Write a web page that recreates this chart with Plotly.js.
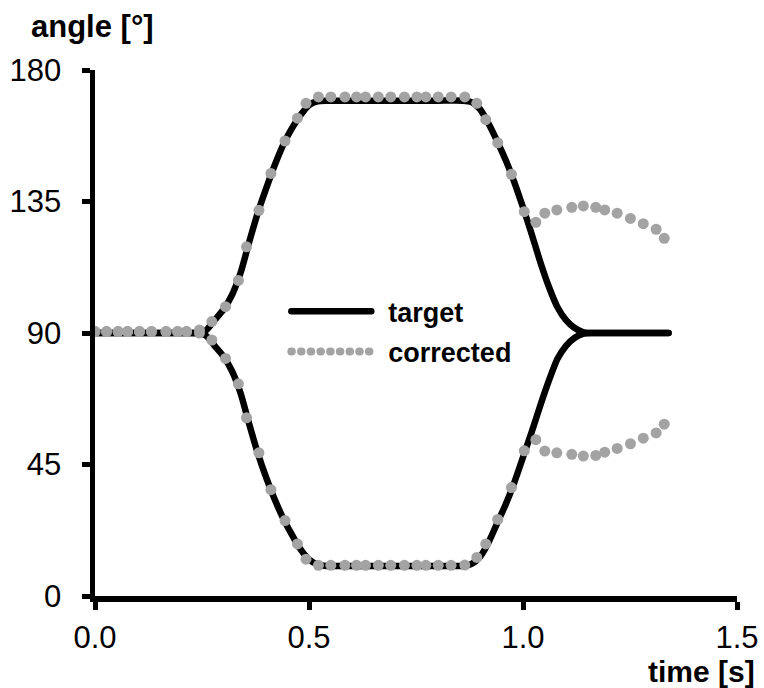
<!DOCTYPE html>
<html>
<head>
<meta charset="utf-8">
<script src="https://cdn.plot.ly/plotly-3.0.1.min.js"></script>
<style>
  html, body { margin: 0; padding: 0; background: #fff; }
  #chart { width: 764px; height: 688px; }
  .scatterlayer path.js-line, .legend path.js-line { stroke-linecap: round; }
  .legend .legendtext { transform: translateX(12px); }
  .legend .scrollbox { clip-path: none !important; }
</style>
</head>
<body>
<div id="chart"></div>
<script>
// ---- data ----
// target (smooth) curves
const targetTime = [0, 0.05, 0.10, 0.15, 0.20, 0.24, 0.26, 0.28, 0.30, 0.32, 0.34, 0.36, 0.38, 0.40, 0.42, 0.44, 0.46, 0.48, 0.50, 0.52, 0.54, 0.60, 0.70, 0.80, 0.86, 0.88, 0.90, 0.92, 0.94, 0.96, 0.98, 1.00, 1.02, 1.04, 1.06, 1.08, 1.10, 1.12, 1.14, 1.16, 1.20, 1.25, 1.30, 1.34];
const targetUpper = [90, 90, 90, 90, 90, 90, 91, 94.5, 98, 103, 110.5, 121, 131, 139.5, 147.5, 154.5, 160, 164.5, 168, 169.3, 169.5, 169.5, 169.5, 169.5, 169.5, 169, 166.5, 161.5, 155.5, 149, 141.5, 133, 124, 114.5, 106, 99, 94.5, 91.8, 90.3, 90, 90, 90, 90, 90];
const targetLower = [90, 90, 90, 90, 90, 90, 89, 85.5, 82, 77, 69.5, 59, 49, 40.5, 33, 26.5, 21, 16, 12.5, 10.8, 10.3, 10.3, 10.3, 10.3, 10.3, 11, 13.5, 18.5, 25, 31.5, 39, 47.5, 56, 65, 73.5, 81, 85.5, 88.3, 89.7, 90, 90, 90, 90, 90];

// corrected (sampled) curves
const corrTime = [0.000, 0.027, 0.054, 0.076, 0.104, 0.132, 0.166, 0.193, 0.214, 0.244, 0.273, 0.305, 0.335, 0.354, 0.383, 0.411, 0.444, 0.473, 0.493, 0.522, 0.551, 0.584, 0.611, 0.632, 0.662, 0.691, 0.723, 0.752, 0.773, 0.802, 0.832, 0.864, 0.892, 0.913, 0.941, 0.973, 1.003, 1.030, 1.051, 1.079, 1.114, 1.141, 1.170, 1.191, 1.220, 1.251, 1.281, 1.311, 1.330];
const corrUpper = [90.5, 90.5, 90.5, 90.5, 90.5, 90.5, 90.5, 90.5, 90.5, 91, 93.9, 99, 108, 119.5, 132, 144.6, 155.7, 163.5, 168.6, 170.8, 170.8, 170.8, 170.8, 170.8, 170.8, 170.8, 170.8, 170.8, 170.8, 170.8, 170.8, 170.8, 168.6, 163, 155.1, 144.3, 131.5, 127.9, 131, 132.1, 133, 133.5, 133, 132.1, 131, 129.2, 127.4, 125.5, 122.4];
const corrLower = [90.5, 90.5, 90.5, 90.5, 90.5, 90.5, 90.5, 90.5, 90.5, 90, 87.6, 81.3, 72.6, 61, 49, 36.4, 25.8, 17.8, 12.6, 10.5, 10.5, 10.5, 10.5, 10.5, 10.5, 10.5, 10.5, 10.5, 10.5, 10.5, 10.5, 10.6, 13.2, 17.8, 26.2, 37.1, 49.7, 53.5, 49.6, 49.0, 48.5, 47.9, 48.1, 49.2, 50.5, 52.1, 54.0, 55.8, 58.8];

const xTicks = [0, 0.5, 1.0, 1.5];
const xTickText = ['0.0', '0.5', '1.0', '1.5'];
const yTicks = [0, 45, 90, 135, 180];

const seriesNames = ['target', 'corrected'];
const xLabel = 'time [s]';
const yLabel = 'angle [°]';

// ---- styles ----
const BLACK = '#000000';
const GREY = '#a3a3a3';
const FONT = 'Liberation Sans, Arial, sans-serif';

const traces = [
  { x: targetTime, y: targetUpper, mode: 'lines', name: seriesNames[0], legendgroup: 'g1',
    line: { color: BLACK, width: 6.5, shape: 'spline', smoothing: 0.6 }, showlegend: true, hoverinfo: 'skip' },
  { x: targetTime, y: targetLower, mode: 'lines', name: seriesNames[0], legendgroup: 'g1',
    line: { color: BLACK, width: 6.5, shape: 'spline', smoothing: 0.6 }, showlegend: false, hoverinfo: 'skip' },
  { x: corrTime, y: corrUpper, mode: 'markers', name: seriesNames[1], legendgroup: 'g2',
    marker: { color: GREY, size: 11, line: { width: 0 } }, showlegend: false, hoverinfo: 'skip' },
  { x: corrTime, y: corrLower, mode: 'markers', name: seriesNames[1], legendgroup: 'g2',
    marker: { color: GREY, size: 11, line: { width: 0 } }, showlegend: false, hoverinfo: 'skip' },
  // legend-only entry for the dotted "corrected" symbol (no plotted point)
  { x: [null], y: [null], mode: 'lines', name: seriesNames[1], legendgroup: 'g2',
    line: { color: GREY, width: 8, dash: '0.5px,9.2px' }, showlegend: true, hoverinfo: 'skip' }
];

const layout = {
  width: 764, height: 688,
  margin: { l: 95, r: 27, t: 70, b: 92 },
  paper_bgcolor: '#ffffff', plot_bgcolor: '#ffffff',
  showlegend: true,
  font: { family: FONT, color: BLACK },
  xaxis: {
    range: [0, 1.5], tickvals: xTicks, ticktext: xTickText,
    showgrid: false, zeroline: false,
    showline: true, linecolor: BLACK, linewidth: 5.5,
    ticks: 'outside', ticklen: 8, tickwidth: 5, tickcolor: BLACK,
    tickfont: { family: FONT, size: 31, color: BLACK },
    ticklabelstandoff: 1
  },
  yaxis: {
    range: [0, 180], tickvals: yTicks,
    showgrid: false, zeroline: false,
    showline: true, linecolor: BLACK, linewidth: 5.5,
    ticks: 'outside', ticklen: 8, tickwidth: 5, tickcolor: BLACK,
    tickfont: { family: FONT, size: 31, color: BLACK },
    ticklabelstandoff: 14
  },
  legend: {
    x: 0.298, y: 0.587, xanchor: 'left', yanchor: 'top',
    bgcolor: 'rgba(0,0,0,0)', borderwidth: 0,
    itemwidth: 80,
    tracegroupgap: 2,
    font: { family: FONT, size: 27, color: BLACK, weight: 'bold' },
    traceorder: 'grouped'
  },
  annotations: [
    { text: '<b>' + yLabel + '</b>', xref: 'paper', yref: 'paper',
      x: -0.103, y: 1.082, xanchor: 'left', yanchor: 'middle', showarrow: false,
      font: { family: FONT, size: 31, color: BLACK } },
    { text: '<b>' + xLabel + '</b>', xref: 'paper', yref: 'paper',
      x: 1.031, y: -0.143, xanchor: 'right', yanchor: 'middle', showarrow: false,
      font: { family: FONT, size: 30, color: BLACK } }
  ]
};

Plotly.newPlot('chart', traces, layout, { displayModeBar: false, staticPlot: true });
</script>
</body>
</html>
